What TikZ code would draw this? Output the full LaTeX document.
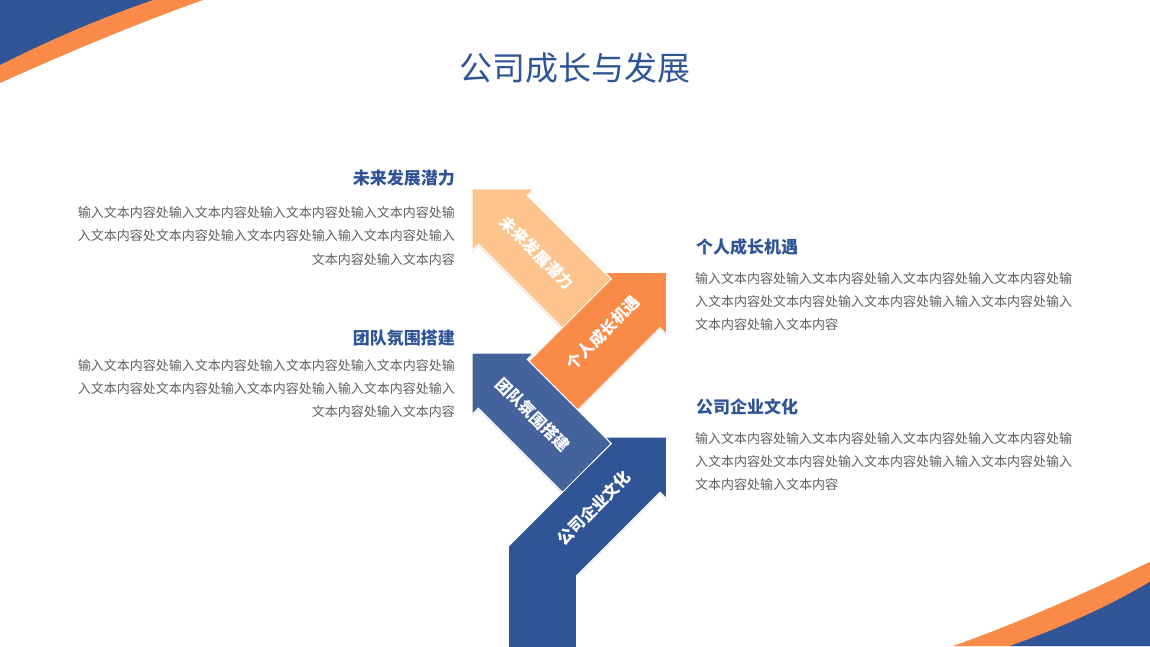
\documentclass[tikz,border=0pt]{standalone}
\usepackage{fontspec}
\setmainfont{Noto Sans CJK SC}
\usetikzlibrary{shadows}
\definecolor{deepblue}{HTML}{2F5597}
\definecolor{teamblue}{HTML}{44639D}
\definecolor{deeporange}{HTML}{F98A48}
\definecolor{lightorange}{HTML}{FDC48E}
\definecolor{bodygray}{HTML}{5F5F5F}
\tikzset{
  arrowbody/.style={draw=white,line width=1pt,drop shadow={shadow xshift=0pt,shadow yshift=-2pt,opacity=.18}},
  arrowlabel/.style={text=white,font=\fontsize{16}{16}\selectfont\bfseries,inner sep=0pt},
  heading/.style={text=deepblue,font=\fontsize{17}{17}\selectfont\bfseries,inner sep=0pt},
  bodytext/.style={text=bodygray,font=\fontsize{13}{23.3}\selectfont,inner sep=0pt},
}
\begin{document}
\begin{tikzpicture}[x=1pt,y=1pt]
  \useasboundingbox (0,0) rectangle (1150,646);
  \clip (0,0) rectangle (1150,646);
  % corners
  \fill[deeporange] (0,646) -- (0,563) .. controls (60,590) and (130,620) .. (203,646) -- cycle;
  \fill[deepblue] (0,646) -- (0,581) .. controls (45,604) and (100,628) .. (153,646) -- cycle;
  \fill[deeporange] (953,0) .. controls (1010,20) and (1080,50) .. (1150,84.3) -- (1150,0) -- cycle;
  \fill[deepblue] (1010,0) .. controls (1060,18) and (1110,40) .. (1150,64.3) -- (1150,0) -- cycle;

  \node[text=deepblue,font=\fontsize{33}{33}\selectfont,inner sep=0pt] (title) at (575,578) {公司成长与发展};

  % arrows
  \foreach \tx/\ty/\ang/\col in {472/457/135/lightorange, 666.5/373.5/45/deeporange, 472/293/135/teamblue}
    \fill[arrowbody,fill=\col,shift={(\tx,\ty)},rotate=\ang] (0,0) -- (-43.5,43.5) -- (-43.5,34.5)
      -- (-165.5,34.5) -- (-165.5,-34.5) -- (-43.5,-34.5) -- (-43.5,-43.5) -- cycle;
  \fill[arrowbody,fill=deepblue] (666.5,209) -- (605,209) -- (611.4,202.6) -- (508.3,99.6) -- (508.3,-2)
    -- (576.7,-2) -- (576.7,70.4) -- (660.1,153.9) -- (666.5,147.5) -- cycle;

  \node[arrowlabel,rotate=-45] (a1) at (537,393) {未来发展潜力};
  \node[arrowlabel,rotate=45] (a2) at (603,313) {个人成长机遇};
  \node[arrowlabel,rotate=-45] (a3) at (533,231) {团队氛围搭建};
  \node[arrowlabel,rotate=45] (a4) at (594,138) {公司企业文化};

  % text blocks
  \node[heading,anchor=east] (h1) at (455,467.5) {未来发展潜力};
  \node[bodytext,anchor=east,align=right] (b1) at (455,410) {输入文本内容处输入文本内容处输入文本内容处输入文本内容处输\\入文本内容处文本内容处输入文本内容处输入输入文本内容处输入\\文本内容处输入文本内容};
  \node[heading,anchor=east] (h2) at (455,307.5) {团队氛围搭建};
  \node[bodytext,anchor=east,align=right] (b2) at (455,257.5) {输入文本内容处输入文本内容处输入文本内容处输入文本内容处输\\入文本内容处文本内容处输入文本内容处输入输入文本内容处输入\\文本内容处输入文本内容};
  \node[heading,anchor=west] (h3) at (696,398.5) {个人成长机遇};
  \node[bodytext,anchor=west,align=left] (b3) at (695,344.3) {输入文本内容处输入文本内容处输入文本内容处输入文本内容处输\\入文本内容处文本内容处输入文本内容处输入输入文本内容处输入\\文本内容处输入文本内容};
  \node[heading,anchor=west] (h4) at (696,239) {公司企业文化};
  \node[bodytext,anchor=west,align=left] (b4) at (695,184.3) {输入文本内容处输入文本内容处输入文本内容处输入文本内容处输\\入文本内容处文本内容处输入文本内容处输入输入文本内容处输入\\文本内容处输入文本内容};
\end{tikzpicture}
\end{document}
